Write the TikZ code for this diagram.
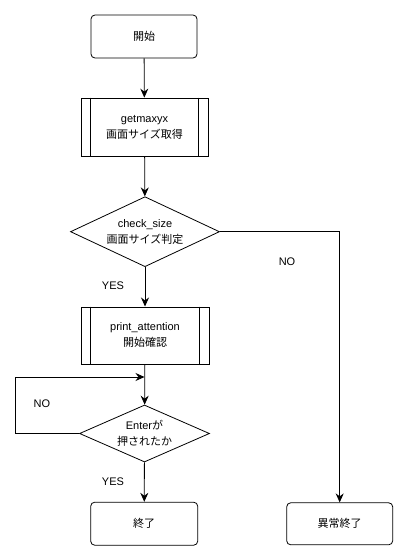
\documentclass[tikz,border=0pt]{standalone}
\usepackage{fontspec}
\setmainfont{Liberation Sans}
\newfontfamily\jp{Noto Sans CJK JP}
\usetikzlibrary{shapes.geometric,arrows.meta}
\tikzset{
  x=1pt,y=-1pt,
  base/.style={draw=black,line width=0.8pt,align=center,inner sep=0pt,font=\fontsize{11}{16}\selectfont,text=black},
  term/.style={base,rectangle,rounded corners=4pt},
  subproc/.style={base,rectangle},
  decide/.style={base,diamond},
  txt/.style={align=center,inner sep=0pt,font=\fontsize{11}{16}\selectfont,text=black},
  arr/.style={draw=black,line width=0.8pt,-{Stealth[length=9pt,width=8pt,inset=3pt]}},
  lbl/.style={font=\fontsize{11}{13}\selectfont,text=black,inner sep=0pt}
}
\begin{document}
\begin{tikzpicture}
\useasboundingbox (0,0) rectangle (408,560);
\node[term,minimum width=106pt,minimum height=43pt] (start) at (144,36.5) {\jp 開始};
\node[subproc,minimum width=127pt,minimum height=58pt] (getmax) at (144.5,127) {getmaxyx\\{\jp 画面サイズ取得}};
\draw[line width=0.8pt] ([xshift=10pt]getmax.north west) -- ([xshift=10pt]getmax.south west);
\draw[line width=0.8pt] ([xshift=-10pt]getmax.north east) -- ([xshift=-10pt]getmax.south east);
\node[decide,minimum width=149pt,minimum height=70pt] (check) at (145,231.7) {};
\node[txt] (checkt) at (check.center) {check\_size\\{\jp 画面サイズ判定}};
\node[subproc,minimum width=128pt,minimum height=57pt] (print) at (145,335.4) {print\_attention\\{\jp 開始確認}};
\draw[line width=0.8pt] ([xshift=10pt]print.north west) -- ([xshift=10pt]print.south west);
\draw[line width=0.8pt] ([xshift=-10pt]print.north east) -- ([xshift=-10pt]print.south east);
\node[decide,minimum width=130pt,minimum height=57pt] (enter) at (144.5,433.5) {};
\node[txt] (entert) at (enter.center) {Enter{\jp が}\\{\jp 押されたか}};
\node[term,minimum width=107pt,minimum height=43pt] (fin) at (144.2,523.7) {\jp 終了};
\node[term,minimum width=106pt,minimum height=42pt] (abend) at (339.7,523.8) {\jp 異常終了};
\coordinate (j) at (144.5,377);
\draw[arr] (start) -- (getmax);
\draw[arr] (getmax) -- (check);
\draw[arr] (check) -- (print);
\draw[arr] (print) -- (enter);
\draw[arr] (enter) -- (fin);
\draw[arr] (check.east) -| (abend.north);
\draw[arr] (enter.west) -- ++(-63.5,0) |- (j);
\node[lbl] (yes1) at (113,286) {YES};
\node[lbl] (no1) at (287,262) {NO};
\node[lbl] (no2) at (42,404) {NO};
\node[lbl] (yes2) at (113,482) {YES};
\end{tikzpicture}
\end{document}
